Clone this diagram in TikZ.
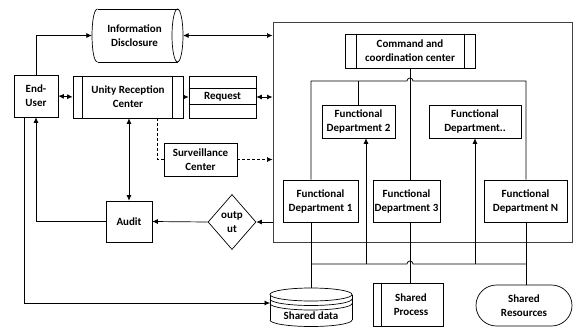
\documentclass[tikz,border=0pt]{standalone}
\usepackage{fontspec}
\setmainfont{Carlito}
\usetikzlibrary{arrows.meta,shapes.geometric,shapes.misc,calc}
\begin{document}
\begin{tikzpicture}[x=1pt,y=-1pt,
  txt/.style={align=center, inner sep=1pt, font=\fontsize{11}{14}\selectfont\bfseries},
  box/.style={txt, draw, line width=0.7pt},
  conn/.style={line width=0.7pt},
  arr/.style={conn, -{Latex[length=5.5pt,width=5pt]}},
  darr/.style={conn, {Latex[length=5.5pt,width=5pt]}-{Latex[length=5.5pt,width=5pt]}},
  dashline/.style={conn, dash pattern=on 3pt off 2pt},
  dasharr/.style={dashline, -{Latex[length=5.5pt,width=5pt]}},
  frame/.style={draw=black!75, line width=1pt, inner sep=0pt}
]
\useasboundingbox (0,0) rectangle (574,327);

% big frame
\node[frame, minimum width=299pt, minimum height=220pt] (big) at (422.5,132) {};

% left side nodes
\node[box, minimum width=44pt, minimum height=42pt] (eu) at (36,96) {End-\\User};
\node[txt, minimum width=91pt, minimum height=53pt] (infod) at (137.5,35.5) {\hspace*{-6pt}Information\\\hspace*{-6pt}Disclosure};
\draw[conn] (97.5,9) -- (177.5,9) (97.5,62) -- (177.5,62);
\draw[conn] (97.5,9) .. controls (90.2,9) and (90.2,62) .. (97.5,62);
\draw[conn] (177.5,35.5) ellipse[x radius=5.5, y radius=26.5];

\node[box, minimum width=110pt, minimum height=42pt] (urc) at (128,97) {Unity Reception\\Center};
\draw[conn] ($(urc.north west)+(10,0)$) -- ($(urc.south west)+(10,0)$);
\draw[conn] ($(urc.north east)+(-11,0)$) -- ($(urc.south east)+(-11,0)$);

\node[box, minimum width=67pt, minimum height=42pt] (req) at (222.5,97) {Request};
\draw[conn] ($(req.north west)+(0,13)$) -- ($(req.north east)+(0,13)$);
\draw[conn] ($(req.north west)+(0,29)$) -- ($(req.north east)+(0,29)$);

\node[box, minimum width=73pt, minimum height=33pt] (surv) at (200.5,159.5) {Surveillance\\Center};
\node[box, minimum width=46pt, minimum height=41pt] (audit) at (129,221.5) {Audit};
\node[box, diamond, inner sep=0pt, minimum width=48pt, minimum height=55pt] (out) at (232,222) {outp\\ut};

% right side nodes
\node[box, minimum width=130pt, minimum height=34pt] (ccc) at (410,51) {Command and\\coordination center};
\draw[conn] ($(ccc.north west)+(12,0)$) -- ($(ccc.south west)+(12,0)$);
\draw[conn] ($(ccc.north east)+(-11,0)$) -- ($(ccc.south east)+(-11,0)$);

\node[box, minimum width=73pt, minimum height=33pt] (fd2) at (358.5,121.5) {Functional\\Department 2};
\node[box, minimum width=92pt, minimum height=33pt] (fdd) at (475,121.5) {Functional\\Department..};
\node[box, minimum width=75pt, minimum height=42pt] (fd1) at (320.5,201) {Functional\\Department 1};
\node[box, minimum width=67pt, minimum height=42pt] (fd3) at (406.5,201) {Functional\\Department 3};
\node[box, minimum width=83pt, minimum height=42pt] (fdn) at (525.5,201) {Functional\\Department N};

% bottom nodes
\node[txt, minimum width=82pt, minimum height=39pt] (sd) at (311,307.5) {};
\draw[conn] (311,294.5) ellipse[x radius=41, y radius=6.5];
\draw[conn] (270,299) arc[start angle=180, end angle=0, x radius=41, y radius=6.5];
\draw[conn] (270,303.5) arc[start angle=180, end angle=0, x radius=41, y radius=6.5];
\draw[conn] (270,320) arc[start angle=180, end angle=0, x radius=41, y radius=6.5];
\draw[conn] (270,294.5) -- (270,320) (352,294.5) -- (352,320);
\node[txt] (sdt) at (311,316) {Shared data};
\coordinate (sdin) at (270,303);

\node[box, minimum width=70pt, minimum height=43pt] (sp) at (408,304.5) {\hspace*{6pt}Shared\\\hspace*{6pt}Process};
\draw[conn] ($(sp.north west)+(9,0)$) -- ($(sp.south west)+(9,0)$);
\node[box, rounded rectangle, minimum width=98pt, minimum height=41pt] (sr) at (524,305.5) {Shared\\Resources};

% left connectors
\draw[arr] (eu.north) |- (infod.west);
\draw[darr] (infod.east) -- (infod.east -| big.west);
\draw[darr] (eu.east) -- (urc.west);
\draw[arr] (urc.east) -- (req.west);
\draw[darr] (req.east) -- (req.east -| big.west);
\draw[darr] (audit.north |- urc.south) -- (audit.north);
\coordinate (dsrc) at ($(urc.south east)+(-26,0)$);
\draw[dashline] (dsrc) |- (surv.west);
\draw[dasharr] (surv.east) -- (surv.east -| big.west);
\draw[arr] (out.east -| big.west) -- (out.east);
\draw[arr] (out.west) -- (audit.east);
\draw[arr] (audit.west) -| (eu.south);
\coordinate (eul) at ($(eu.south west)+(11,0)$);
\draw[arr] (eul) |- (sdin);

% buses
\coordinate (busL) at (311,81);
\coordinate (busR) at (526,81);
\coordinate (lbL) at (311,264);
\coordinate (lbR) at (526,264);
\draw[conn] (busL |- fd1.north) -- (busL) -- ($(ccc.south |- busL)+(-3,0)$)
  arc[start angle=180, end angle=360, radius=3] -- (busR) -- (busR |- fdn.north);
\draw[conn] (fd2.north) -- (fd2.north |- busL);
\draw[conn] (ccc.south) -- (ccc.south |- fd3.north);
\draw[conn] (lbL) -- ($(ccc.south |- lbL)+(-3,0)$)
  arc[start angle=180, end angle=360, radius=3] -- (lbR);
\draw[conn] (busL |- fd1.south) -- (busL |- sd.north);
\draw[conn] (ccc.south |- fd3.south) -- (ccc.south |- sp.north);
\draw[conn] (busR |- fdn.south) -- (busR |- sr.north);
\coordinate (a2) at (366,264);
\draw[arr] (a2) -- (a2 |- fd2.south);
\draw[arr] (fdd.south |- lbL) -- (fdd.south);
\end{tikzpicture}
\end{document}
